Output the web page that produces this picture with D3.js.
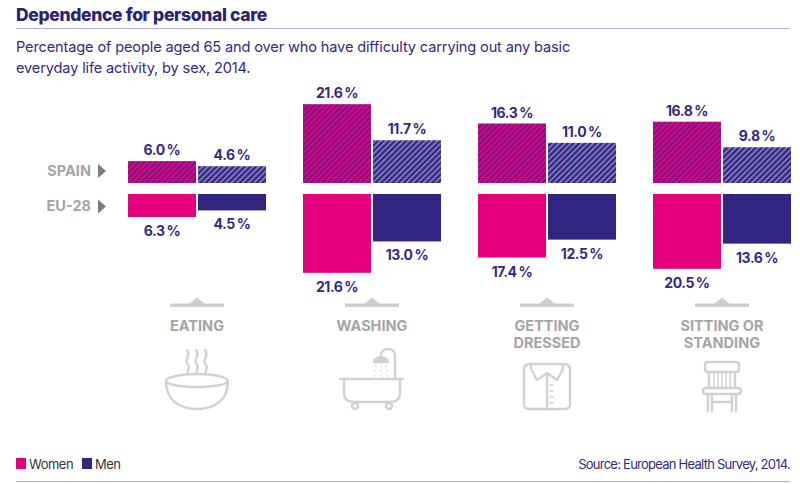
<!DOCTYPE html>
<html>
<head>
<meta charset="utf-8">
<script src="https://cdn.jsdelivr.net/npm/d3@7"></script>
<style>
  body { margin: 0; background: #fff; }
  text { font-family: Inter, "Open Sans", sans-serif; }
</style>
</head>
<body>
<svg id="chart" width="800" height="484"></svg>
<script>
// values
const categories = ["EATING", "WASHING", "GETTING DRESSED", "SITTING OR STANDING"];
const categoryLines = [["EATING"], ["WASHING"], ["GETTING", "DRESSED"], ["SITTING OR", "STANDING"]];
const sexes = ["Women", "Men"];
const spainWomen = [6.0, 21.6, 16.3, 16.8];
const spainMen = [4.6, 11.7, 11.0, 9.8];
const euWomen = [6.3, 21.6, 17.4, 20.5];
const euMen = [4.5, 13.0, 12.5, 13.6];
const regions = ["SPAIN", "EU-28"];

const pink = "#e5007d", navy = "#302681", gray = "#a6a4a6", iconGray = "#d2d1d2";
const textNavy = "#35297f";

const svg = d3.select("#chart");

// hatch patterns for the Spain bars
const defs = svg.append("defs");
const hatch = (id, bg, fg) => {
    let p = defs.append("pattern")
        .attr("id", id)
        .attr("patternUnits", "userSpaceOnUse")
        .attr("width", 4).attr("height", 4)
        .attr("patternTransform", "rotate(-45)");
    p.append("rect").attr("width", 4).attr("height", 4).attr("fill", bg);
    p.append("rect").attr("width", 4).attr("height", 1.6).attr("fill", fg);
};
hatch("hatchWomen", pink, "#55208a");
hatch("hatchMen", navy, "#8d86c6");

// header
svg.append("text")
    .attr("x", 16).attr("y", 21)
    .attr("font-size", 17.5).attr("font-weight", 800)
    .attr("fill", "#2a2272")
    .attr("letter-spacing", -0.35)
    .text("Dependence for personal care");
svg.append("line")
    .attr("x1", 16).attr("x2", 790).attr("y1", 28.5).attr("y2", 28.5)
    .attr("stroke", "#b3aed6").attr("stroke-width", 1.2);
svg.append("text")
    .attr("x", 16).attr("y", 52)
    .attr("font-size", 14.6).attr("fill", textNavy)
    .attr("letter-spacing", -0.15)
    .text("Percentage of people aged 65 and over who have difficulty carrying out any basic");
svg.append("text")
    .attr("x", 16).attr("y", 73)
    .attr("font-size", 14.6).attr("fill", textNavy)
    .attr("letter-spacing", -0.15)
    .text("everyday life activity, by sex, 2014.");

// scales
let x = d3.scaleBand().domain(categories).range([128, 791]).paddingInner(0.2114).paddingOuter(0),
    xs = d3.scaleBand().domain(sexes).range([0, x.bandwidth()]).paddingInner(0.0286),
    ySpain = d3.scaleLinear().domain([0, 25]).range([183, 183 - 91.25]),
    yEu = d3.scaleLinear().domain([0, 25]).range([194, 194 + 91.25]);

const fmt = v => d3.format(".1f")(v) + "\u2009%";

let rows = [];
categories.forEach((c, i) => {
    rows.push({cat: c, sex: "Women", region: "SPAIN", v: spainWomen[i]});
    rows.push({cat: c, sex: "Men", region: "SPAIN", v: spainMen[i]});
    rows.push({cat: c, sex: "Women", region: "EU-28", v: euWomen[i]});
    rows.push({cat: c, sex: "Men", region: "EU-28", v: euMen[i]});
});

let g = svg.append("g");

g.selectAll(".bar")
    .data(rows)
    .enter().append("rect")
        .attr("class", "bar")
        .attr("x", d => x(d.cat) + xs(d.sex))
        .attr("width", xs.bandwidth())
        .attr("y", d => d.region == "SPAIN" ? ySpain(d.v) : yEu(0))
        .attr("height", d => d.region == "SPAIN" ? ySpain(0) - ySpain(d.v) : yEu(d.v) - yEu(0))
        .attr("fill", d => d.region == "SPAIN"
            ? (d.sex == "Women" ? "url(#hatchWomen)" : "url(#hatchMen)")
            : (d.sex == "Women" ? pink : navy));

g.selectAll(".val")
    .data(rows)
    .enter().append("text")
        .attr("class", "val")
        .attr("x", d => x(d.cat) + xs(d.sex) + xs.bandwidth() / 2)
        .attr("y", d => d.region == "SPAIN" ? ySpain(d.v) - 6 : yEu(d.v) + 19)
        .attr("text-anchor", "middle")
        .attr("font-size", 14).attr("font-weight", 700)
        .attr("fill", textNavy)
        .attr("letter-spacing", -0.4)
        .text(d => fmt(d.v));

// region labels with arrows
let regionY = {"SPAIN": (ySpain(0) + ySpain(6.0)) / 2 - 1, "EU-28": (yEu(0) + yEu(6.3)) / 2 + 1};
regions.forEach(r => {
    let cy = regionY[r];
    svg.append("text")
        .attr("x", 91).attr("y", cy + 5)
        .attr("text-anchor", "end")
        .attr("font-size", 14.5).attr("font-weight", 700)
        .attr("fill", gray)
        .text(r);
    svg.append("path")
        .attr("d", `M98,${cy - 7}L106,${cy}L98,${cy + 7}Z`)
        .attr("fill", "#7d7b7e");
});

// category ticks and labels
categories.forEach((c, i) => {
    let cx = x(c) + x.bandwidth() / 2;
    svg.append("rect")
        .attr("x", cx - 27).attr("y", 303.5).attr("width", 54).attr("height", 3.5)
        .attr("fill", "#cfcdcf");
    svg.append("path")
        .attr("d", `M${cx - 8},304L${cx},297.5L${cx + 8},304Z`)
        .attr("fill", "#cfcdcf");
    categoryLines[i].forEach((t, j) => {
        svg.append("text")
            .attr("x", cx).attr("y", 331 + j * 17)
            .attr("text-anchor", "middle")
            .attr("font-size", 14.5).attr("font-weight", 700)
            .attr("fill", gray)
            .text(t);
    });
});

// icons
const icon = (i) => svg.append("g")
    .attr("transform", `translate(${x(categories[i]) + x.bandwidth() / 2},0)`)
    .attr("fill", "none").attr("stroke", iconGray)
    .attr("stroke-width", 2.4).attr("stroke-linecap", "round").attr("stroke-linejoin", "round");

// bowl
let bowl = icon(0);
bowl.append("path").attr("d", "M-31,381 A31,7 0 0 1 31,381 C31,400 18,409 0,409 C-18,409 -31,400 -31,381 Z");
bowl.append("path").attr("d", "M-31,381 A31,6 0 0 0 31,381");
[-9, 0, 9].forEach(dx => {
    bowl.append("path").attr("d", `M${dx - 1},350 C${dx + 4},355 ${dx - 5},360 ${dx},365 C${dx + 3},368 ${dx - 2},371 ${dx},374`);
});

// bathtub
let tub = icon(1);
tub.append("path").attr("d", "M-32,379 L31,379");
tub.append("path").attr("d", "M-28,379 L-28,393 C-28,399 -24,402 -18,402 L18,402 C24,402 28,399 28,393 L28,379");
tub.append("circle").attr("cx", -17).attr("cy", 406).attr("r", 3);
tub.append("circle").attr("cx", 17).attr("cy", 406).attr("r", 3);
tub.append("path").attr("d", "M23,379 L23,356 C23,347 11,347 9,354 L9,357");
tub.append("path").attr("d", "M2,362 C3,356 15,356 16,362 Z").attr("fill", iconGray);
[[4, 366], [9, 366], [14, 366], [3, 371], [9, 371], [15, 371], [2, 376], [9, 376], [16, 376]].forEach(p => {
    tub.append("circle").attr("cx", p[0]).attr("cy", p[1]).attr("r", 0.8).attr("fill", iconGray).attr("stroke", "none");
});

// shirt
let shirt = icon(2);
shirt.append("path").attr("d", "M-17,364 L17,364 C21,364 23,366 23,370 L23,404 C23,407 21,409 18,409 L-18,409 C-21,409 -23,407 -23,404 L-23,370 C-23,366 -21,364 -17,364 Z");
shirt.append("path").attr("d", "M-16,364 L-16,369 L-10,380 L0,373 L10,380 L16,369 L16,364");
shirt.append("path").attr("d", "M0,373 L0,409");
[385, 391, 397, 403].forEach(yy => shirt.append("path").attr("d", `M3,${yy} L6,${yy}`).attr("stroke-width", 1.6));

// chair
let chair = icon(3);
chair.append("path").attr("d", "M-14,362 L14,362 C16,362 17,363 17,365 L17,369 C17,371 16,372 14,372 L-14,372 C-16,372 -17,371 -17,369 L-17,365 C-17,363 -16,362 -14,362 Z");
chair.append("path").attr("d", "M-13,372 L-13,388 M13,372 L13,388");
[-8, -4, 0, 4, 8].forEach(dx => chair.append("path").attr("d", `M${dx},373 L${dx},387`).attr("stroke-width", 1.5));
chair.append("path").attr("d", "M-16,388 L16,388 C18,388 19,389 19,391 C19,393 18,394 16,394 L-16,394 C-18,394 -19,393 -19,391 C-19,389 -18,388 -16,388 Z");
chair.append("path").attr("d", "M-14,394 L-14,411 M-10,394 L-10,411 M10,394 L10,411 M14,394 L14,411 M-10,402 L10,402");

// legend
let legend = svg.append("g");
sexes.forEach((s, i) => {
    let lx = i == 0 ? 16 : 82;
    legend.append("rect")
        .attr("x", lx).attr("y", 458).attr("width", 10).attr("height", 11)
        .attr("fill", s == "Women" ? pink : navy);
    legend.append("text")
        .attr("x", lx + 13).attr("y", 468.5)
        .attr("font-size", 13).attr("fill", "#333")
        .attr("letter-spacing", -0.5)
        .text(s);
});
svg.append("text")
    .attr("x", 790).attr("y", 468.5)
    .attr("text-anchor", "end")
    .attr("font-size", 13).attr("fill", textNavy)
    .attr("letter-spacing", -0.75)
    .text("Source: European Health Survey, 2014.");
svg.append("line")
    .attr("x1", 16).attr("x2", 790).attr("y1", 481.5).attr("y2", 481.5)
    .attr("stroke", "#b3aed6").attr("stroke-width", 1.2);
</script>
</body>
</html>
